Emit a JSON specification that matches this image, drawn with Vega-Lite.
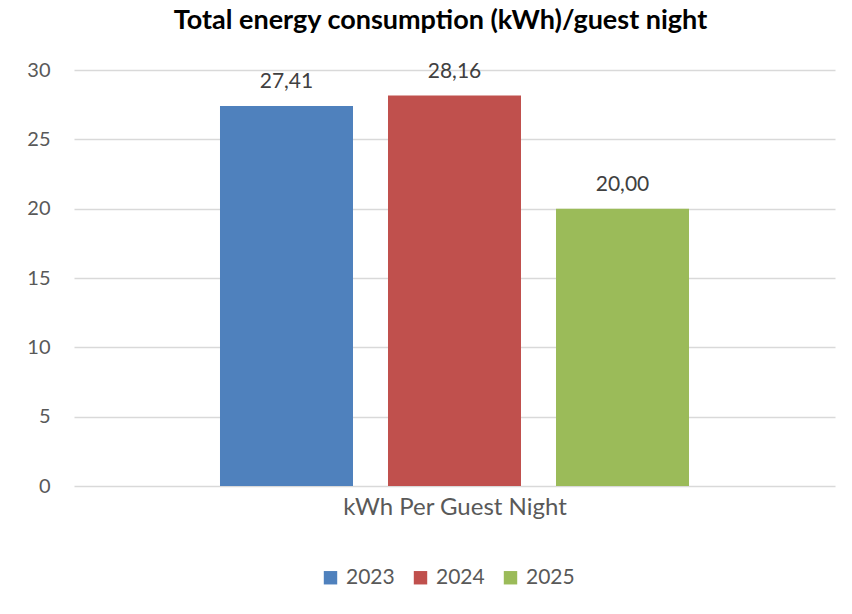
{
  "$schema": "https://vega.github.io/schema/vega-lite/v6.json",
  "width": 761,
  "height": 416,
  "autosize": "none",
  "padding": {"left": 74, "top": 70, "right": 17, "bottom": 128},
  "background": "white",
  "config": {
    "font": "Lato",
    "view": {"stroke": null},
    "locale": {"number": {"decimal": ",", "thousands": ".", "grouping": [3], "currency": ["", " €"]}}
  },
  "title": {
    "text": "Total energy consumption (kWh)/guest night",
    "fontSize": 27,
    "fontWeight": "bold",
    "color": "#000000",
    "anchor": "middle",
    "frame": "group",
    "dx": -14,
    "offset": 25
  },
  "data": {
    "values": [
      {"year": "2023", "value": 27.41},
      {"year": "2024", "value": 28.16},
      {"year": "2025", "value": 20.0}
    ]
  },
  "encoding": {
    "x": {
      "field": "year",
      "type": "nominal",
      "scale": {"paddingInner": 0.2083, "paddingOuter": 0.869},
      "axis": {
        "labels": false,
        "ticks": false,
        "domain": false,
        "grid": false,
        "title": "kWh Per Guest Night",
        "titleFontSize": 24,
        "titleFontWeight": "normal",
        "titleColor": "#595959",
        "titlePadding": 9
      }
    },
    "y": {
      "field": "value",
      "type": "quantitative",
      "scale": {"domain": [0, 30]},
      "axis": {
        "values": [0, 5, 10, 15, 20, 25, 30],
        "title": null,
        "domain": false,
        "ticks": false,
        "grid": true,
        "gridColor": "#d9d9d9",
        "gridWidth": 1.5,
        "labelPadding": 24,
        "labelFontSize": 20,
        "labelColor": "#595959"
      }
    }
  },
  "layer": [
    {
      "mark": {"type": "bar"},
      "encoding": {
        "color": {
          "field": "year",
          "type": "nominal",
          "scale": {"domain": ["2023", "2024", "2025"], "range": ["#4f81bd", "#c0504d", "#9bbb59"]},
          "legend": {
            "title": null,
            "orient": "none",
            "legendX": 246,
            "legendY": 497,
            "direction": "horizontal",
            "symbolType": "square",
            "symbolSize": 180,
            "symbolStrokeWidth": 0,
            "labelFontSize": 21,
            "labelColor": "#595959",
            "labelOffset": 5,
            "columnPadding": 15
          }
        }
      }
    },
    {
      "mark": {"type": "text", "dy": -24, "fontSize": 21, "color": "#404040"},
      "encoding": {
        "text": {"field": "value", "type": "quantitative", "format": ".2f"}
      }
    }
  ]
}
